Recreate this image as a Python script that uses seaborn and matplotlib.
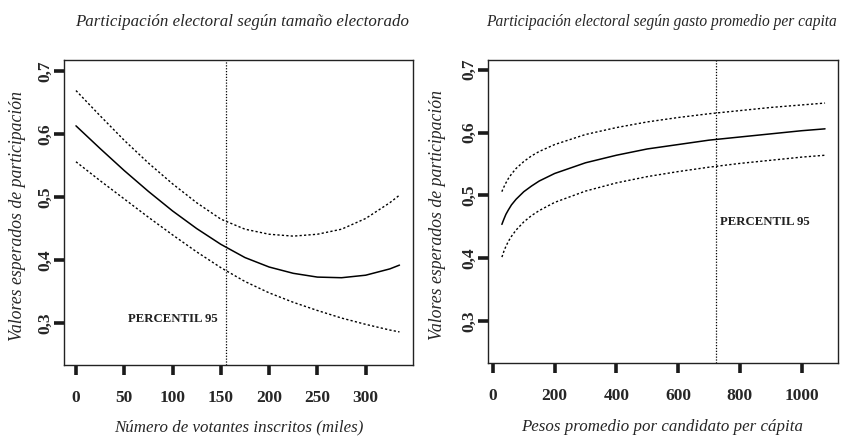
import matplotlib
matplotlib.use("Agg")
import matplotlib.pyplot as plt
import seaborn as sns
import pandas as pd

# ---- data ----
votantes_x = [0, 25, 50, 75, 100, 125, 150, 175, 200, 225, 250, 275, 300, 325, 335]
votantes_fit = [0.613, 0.577, 0.542, 0.509, 0.478, 0.450, 0.425, 0.404, 0.389, 0.379, 0.373, 0.372, 0.376, 0.386, 0.392]
votantes_sup = [0.669, 0.629, 0.590, 0.554, 0.521, 0.491, 0.465, 0.449, 0.441, 0.438, 0.441, 0.449, 0.466, 0.491, 0.503]
votantes_inf = [0.556, 0.526, 0.497, 0.468, 0.440, 0.413, 0.388, 0.366, 0.348, 0.333, 0.320, 0.308, 0.298, 0.289, 0.286]
votantes_p95 = 155

gasto_x = [29, 32, 36, 42, 50, 60, 75, 100, 125, 150, 200, 300, 400, 500, 600, 700, 800, 900, 1000, 1076]
gasto_fit = [0.454, 0.458, 0.463, 0.470, 0.477, 0.485, 0.494, 0.506, 0.515, 0.523, 0.535, 0.552, 0.564, 0.574, 0.581, 0.588, 0.593, 0.598, 0.603, 0.606]
gasto_sup = [0.506, 0.510, 0.514, 0.520, 0.527, 0.534, 0.543, 0.554, 0.563, 0.570, 0.581, 0.597, 0.608, 0.617, 0.624, 0.630, 0.635, 0.640, 0.644, 0.647]
gasto_inf = [0.402, 0.406, 0.412, 0.419, 0.427, 0.435, 0.445, 0.458, 0.468, 0.476, 0.489, 0.507, 0.520, 0.530, 0.538, 0.545, 0.551, 0.556, 0.561, 0.564]
gasto_p95 = 724

yticks = [0.3, 0.4, 0.5, 0.6, 0.7]
ytick_labels = ["0,3", "0,4", "0,5", "0,6", "0,7"]
xticks_left = [0, 50, 100, 150, 200, 250, 300]
xticks_right = [0, 200, 400, 600, 800, 1000]

titles = ["Participación electoral según tamaño electorado",
          "Participación electoral según gasto promedio per capita"]
xlabels = ["Número de votantes inscritos (miles)",
           "Pesos promedio por candidato per cápita"]
ylabel = "Valores esperados de participación"
p95_label = "PERCENTIL 95"

# ---- style ----
sns.set_style("white")
plt.rcParams["font.family"] = ["Liberation Serif", "DejaVu Serif"]

fig = plt.figure(figsize=(8.41, 4.37), dpi=100)
W, H = 841, 437
axL = fig.add_axes([64 / W, (H - 365) / H, (413 - 64) / W, (365 - 60) / H])
axR = fig.add_axes([488 / W, (H - 363) / H, (838 - 488) / W, (363 - 60) / H])

dot = (0, (1.6, 1.6))

def draw(ax, x, fit, sup, inf, p95, xlim, ylim, xticks, title, title_x, title_fs,
         xlabel, xlabel_x, ylabel_ax, txt_xy, txt_ha):
    df = pd.DataFrame({"x": x, "fit": fit, "sup": sup, "inf": inf})
    sns.lineplot(data=df, x="x", y="fit", ax=ax, color="black", linewidth=1.1)
    sns.lineplot(data=df, x="x", y="sup", ax=ax, color="black", linewidth=1.0, linestyle=dot)
    sns.lineplot(data=df, x="x", y="inf", ax=ax, color="black", linewidth=1.0, linestyle=dot)
    ax.axvline(p95, color="black", linewidth=0.9, linestyle=(0, (1.0, 1.3)))
    ax.set_xlim(*xlim)
    ax.set_ylim(*ylim)
    ax.set_xticks(xticks)
    ax.set_xticklabels([str(t) for t in xticks], fontweight="bold", fontsize=12.5)
    ax.set_yticks(yticks)
    ax.set_yticklabels(ytick_labels, fontweight="bold", fontsize=12.5, rotation=90, va="center")
    ax.tick_params(axis="both", direction="out", length=7, width=2.6, color="#1a1a1a",
                   bottom=True, left=True)
    ax.tick_params(axis="x", pad=11)
    ax.tick_params(axis="y", pad=1)
    for s in ax.spines.values():
        s.set_visible(True)
        s.set_color("#222222")
        s.set_linewidth(1.0)
    ax.set_xlabel("")
    ax.set_ylabel(ylabel, fontstyle="italic", fontsize=12.8)
    ax.yaxis.set_label_coords(ylabel_ax, 0.49)
    fig.text(title_x / W, 1 - 22 / H, title, fontstyle="italic", fontsize=title_fs,
             ha="center", va="center")
    fig.text(xlabel_x / W, 1 - 427 / H, xlabel, fontstyle="italic", fontsize=12.2,
             ha="center", va="center")
    ax.text(txt_xy[0], txt_xy[1], p95_label, fontweight="bold", fontsize=9.2,
            ha=txt_ha, va="center", color="#222222")

draw(axL, votantes_x, votantes_fit, votantes_sup, votantes_inf, votantes_p95,
     (-12.4, 349), (0.2335, 0.7175), xticks_left, titles[0], 242, 12.2,
     xlabels[0], 239, (26 - 64) / 349, (147, 0.306), "right")
draw(axR, gasto_x, gasto_fit, gasto_sup, gasto_inf, gasto_p95,
     (-16, 1118), (0.2335, 0.7155), xticks_right, titles[1], 661, 11.2,
     xlabels[1], 662, (446 - 488) / 350, (737, 0.458), "left")

fig.savefig("out.png", dpi=100)
